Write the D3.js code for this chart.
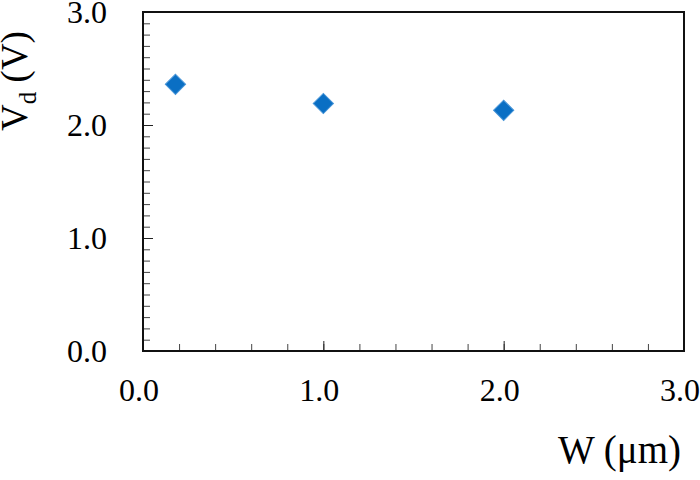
<!DOCTYPE html>
<html>
<head>
<meta charset="utf-8">
<script src="https://cdn.jsdelivr.net/npm/d3@7"></script>
<style>
  body { margin: 0; background: #fff; }
  text { font-family: "Liberation Serif", "Times New Roman", serif; fill: #000; }
</style>
</head>
<body>
<svg width="700" height="480"></svg>
<script>
const width = 700
const height = 480

// data
const widths = [0.18, 1.0, 2.0]          // W (um)
const voltages = [2.36, 2.19, 2.13]      // Vd (V)
const xTicks = [0, 1, 2, 3]
const yTicks = [0, 1, 2, 3]

const margin = {left: 143, right: 16, top: 12, bottom: 129}

const x = d3.scaleLinear()
  .domain([0, 3])
  .range([margin.left, width - margin.right])

const y = d3.scaleLinear()
  .domain([0, 3])
  .range([height - margin.bottom, margin.top])

const svg = d3.select("svg")

// minor ticks (inward)
const xMinor = d3.range(0, 3.001, 0.2)
const yMinor = d3.range(0, 3.001, 0.1)

svg.append("g")
  .attr("transform", `translate(0,${y(0)})`)
  .call(d3.axisBottom(x).tickValues(xMinor).tickSize(-7).tickFormat(""))
  .call(g => g.select(".domain").remove())
  .call(g => g.selectAll("line").attr("stroke", "#444"))

svg.append("g")
  .attr("transform", `translate(${x(0)},0)`)
  .call(d3.axisLeft(y).tickValues(yMinor).tickSize(-7).tickFormat(""))
  .call(g => g.select(".domain").remove())
  .call(g => g.selectAll("line").attr("stroke", "#444"))

// major ticks
svg.append("g")
  .attr("transform", `translate(0,${y(0)})`)
  .call(d3.axisBottom(x).tickValues(xTicks).tickSize(-10).tickFormat(""))
  .call(g => g.select(".domain").remove())
  .call(g => g.selectAll("line").attr("stroke", "#222"))

svg.append("g")
  .attr("transform", `translate(${x(0)},0)`)
  .call(d3.axisLeft(y).tickValues(yTicks).tickSize(-10).tickFormat(""))
  .call(g => g.select(".domain").remove())
  .call(g => g.selectAll("line").attr("stroke", "#222"))

// frame
svg.append("rect")
  .attr("x", x(0))
  .attr("y", y(3))
  .attr("width", x(3) - x(0))
  .attr("height", y(0) - y(3))
  .attr("fill", "none")
  .attr("stroke", "#111")
  .attr("stroke-width", 2)

// tick labels
svg.selectAll(".xlab")
  .data(xTicks)
  .join("text")
  .attr("class", "xlab")
  .attr("x", d => x(d) - 4)
  .attr("y", 401)
  .attr("text-anchor", "middle")
  .style("font-size", "32px")
  .text(d => d.toFixed(1))

svg.selectAll(".ylab")
  .data(yTicks)
  .join("text")
  .attr("class", "ylab")
  .attr("x", 107)
  .attr("y", d => y(d) + 11)
  .attr("text-anchor", "end")
  .style("font-size", "32px")
  .text(d => d.toFixed(1))

// axis titles
svg.append("text")
  .attr("x", 681)
  .attr("y", 463)
  .attr("text-anchor", "end")
  .style("font-size", "39px")
  .text("W (μm)")

const ylab = svg.append("text")
  .attr("transform", "translate(27,81) rotate(-90)")
  .attr("text-anchor", "middle")
  .style("font-size", "37px")
ylab.append("tspan").text("V")
ylab.append("tspan").attr("dy", 9).style("font-size", "25px").text("d")
ylab.append("tspan").attr("dy", -9).text(" (V)")

// points
const diamond = d3.symbol().type(d3.symbolSquare).size(205)

svg.selectAll(".pt")
  .data(widths.map((w, i) => ({w: w, v: voltages[i]})))
  .join("path")
  .attr("class", "pt")
  .attr("d", diamond)
  .attr("transform", d => `translate(${x(d.w)},${y(d.v)}) rotate(45)`)
  .attr("fill", "#0a6fc4")
  .attr("stroke", "#4a96d8")
  .attr("stroke-width", 1)
</script>
</body>
</html>
